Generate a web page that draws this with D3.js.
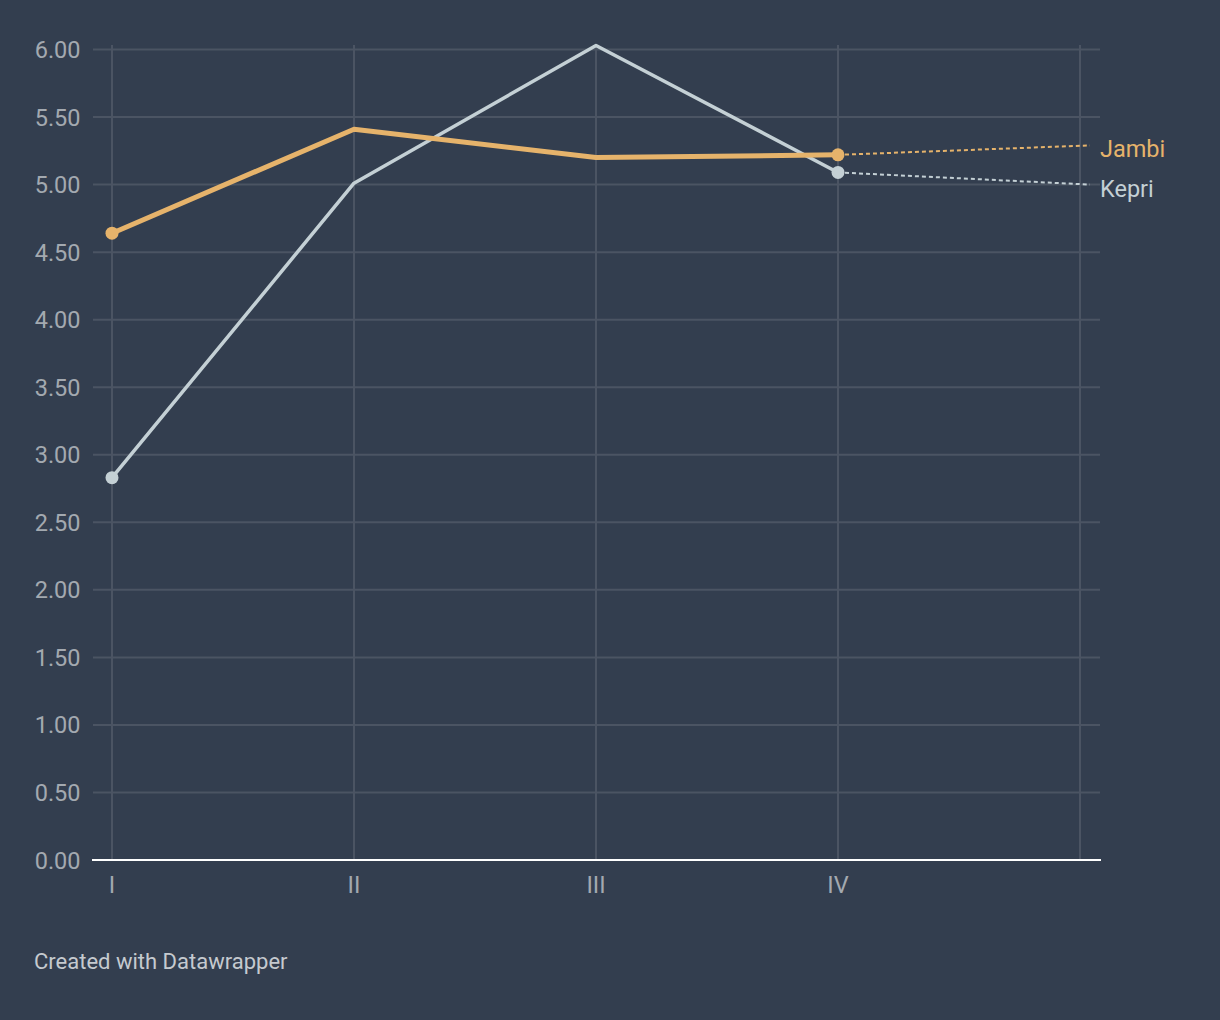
<!DOCTYPE html>
<html><head><meta charset="utf-8">
<script src="https://cdn.jsdelivr.net/npm/d3@7"></script>
<style>
html,body{margin:0;padding:0;background:#333e4f;}
svg{display:block;font-family:Roboto,"Noto Sans",sans-serif;}
</style></head>
<body><svg id="c" width="1220" height="1020"></svg>
<script>
const categories = ["I","II","III","IV",""];
const yTicks = [0,0.5,1,1.5,2,2.5,3,3.5,4,4.5,5,5.5,6];
const jambi = [4.64, 5.41, 5.20, 5.22];
const kepri = [2.83, 5.01, 6.03, 5.09];
const seriesNames = ["Jambi","Kepri"];
const labelValues = [5.29, 5.00];
const colors = ["#e6b36b","#c4d0d5"];
const footer = "Created with Datawrapper";

const svg = d3.select("#c");
const x = d3.scalePoint().domain(categories).range([112,1080]);
const y = d3.scaleLinear().domain([0,6]).range([860,49.5]);

// horizontal grid
svg.append("g").selectAll("line").data(yTicks.filter(d=>d>0)).join("line")
  .attr("x1",93).attr("x2",1100).attr("y1",d=>y(d)).attr("y2",d=>y(d))
  .attr("stroke","#4b5463").attr("stroke-width",2);
// vertical grid
svg.append("g").selectAll("line").data(categories).join("line")
  .attr("x1",d=>x(d)).attr("x2",d=>x(d)).attr("y1",45).attr("y2",860)
  .attr("stroke","#4b5463").attr("stroke-width",2);
// zero baseline
svg.append("line").attr("x1",92).attr("x2",1101).attr("y1",y(0)).attr("y2",y(0))
  .attr("stroke","#ffffff").attr("stroke-width",2);

// y tick labels
svg.append("g").selectAll("text").data(yTicks).join("text")
  .attr("x",80.5).attr("y",d=>y(d)+8.5).attr("text-anchor","end")
  .attr("fill","#a3a9b0").attr("font-size",23.5).text(d=>d3.format(".2f")(d));
// x tick labels
svg.append("g").selectAll("text").data(categories.filter(d=>d)).join("text")
  .attr("x",d=>x(d)).attr("y",893).attr("text-anchor","middle")
  .attr("fill","#a3a9b0").attr("font-size",23.5).text(d=>d);

const line = d3.line().x((d,i)=>x(categories[i])).y(d=>y(d));
const series = [kepri, jambi];
const sColors = [colors[1], colors[0]];
const widths = [3.5, 5];
const labelsX = x(categories[4]) + 10;
const sIdx = [1,0];
series.forEach((s,k)=>{
  const si = sIdx[k];
  const last = s.length-1;
  svg.append("line").attr("x1",x(categories[last])).attr("y1",y(s[last]))
    .attr("x2",labelsX).attr("y2",y(labelValues[si]))
    .attr("stroke",sColors[k]).attr("stroke-width",2).attr("stroke-dasharray","4,3");
  svg.append("path").datum(s).attr("d",line).attr("fill","none")
    .attr("stroke",sColors[k]).attr("stroke-width",widths[k])
    .attr("stroke-linejoin","round").attr("stroke-linecap","round");
});
series.forEach((s,k)=>{
  [0, s.length-1].forEach(i=>{
    svg.append("circle").attr("cx",x(categories[i])).attr("cy",y(s[i])).attr("r",6.5)
      .attr("fill",sColors[k]);
  });
});
seriesNames.forEach((n,i)=>{
  svg.append("text").attr("x",labelsX+10).attr("y",y(labelValues[i])+12)
    .attr("fill",colors[i]).attr("font-size",23.5).text(n);
});
svg.append("text").attr("x",34).attr("y",969).attr("fill","#c5cacf")
  .attr("font-size",22).text(footer);
</script></body></html>
